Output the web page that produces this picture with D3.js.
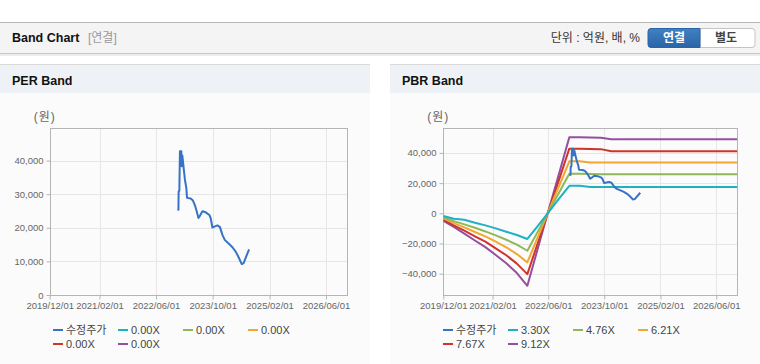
<!DOCTYPE html>
<html><head><meta charset="utf-8">
<script src="https://cdn.jsdelivr.net/npm/d3@7"></script>
<style>
body{margin:0;background:#fff;overflow:hidden;}
svg{display:block;font-family:"Liberation Sans",Arial,"Noto Sans CJK KR",sans-serif;}
</style></head><body>
<svg id="c" width="760" height="364"></svg>
<script>
// ---- data ----
const priceDates = ["2022-12-02","2022-12-11","2022-12-13","2022-12-19","2022-12-24","2023-01-05","2023-01-08","2023-01-14","2023-01-28","2023-02-05","2023-02-17","2023-02-23","2023-03-26","2023-04-15","2023-05-02","2023-05-17","2023-06-01","2023-06-14","2023-07-05","2023-08-02","2023-09-03","2023-09-14","2023-09-29","2023-10-21","2023-11-11","2023-12-03","2023-12-24","2024-01-13","2024-02-19","2024-03-19","2024-04-16","2024-05-06","2024-06-07","2024-06-22","2024-08-09"];
const priceValues = [25400,25400,30800,31000,42800,42800,38300,41500,36800,34300,31800,28900,28700,28100,26700,24900,22900,23600,24900,24600,23800,22900,20100,20400,20700,20200,17900,16400,15200,14200,12900,11600,9200,9400,13600];

const bandDates = ["2019-12-01","2020-03-01","2020-06-01","2020-09-01","2020-12-01","2021-03-01","2021-06-01","2021-09-01","2021-12-01","2022-03-01","2022-06-01","2022-09-01","2022-12-01","2023-03-01","2023-06-01","2023-09-01","2023-12-01","2026-12-01"];
const pbr330 = [-1800,-3600,-4300,-6300,-8000,-10000,-12200,-14400,-17000,-8500,500,9500,18200,18200,17500,17500,17500,17500];
const pbr476 = [-2600,-5200,-7300,-9600,-12000,-14600,-17500,-20800,-24800,-12300,700,13500,26200,26200,26000,25900,25900,25900];
const pbr621 = [-3300,-6500,-9300,-12400,-15300,-18800,-22500,-27000,-32500,-16000,900,17600,34400,34400,33700,33700,33700,33700];
const pbr767 = [-4100,-8000,-11400,-15200,-18800,-23200,-27800,-33300,-40300,-19800,1100,21800,42800,42700,42600,42500,41100,41100];
const pbr912 = [-4900,-9000,-13500,-18000,-22400,-27600,-33100,-39600,-48000,-23500,1300,25800,50400,50300,50200,50100,49100,49100];

const perLegend = ["수정주가","0.00X","0.00X","0.00X","0.00X","0.00X"];
const pbrLegend = ["수정주가","3.30X","4.76X","6.21X","7.67X","9.12X"];
const seriesColors = ["#3473c5","#1fb0c4","#8fb857","#f3a630","#cf342b","#954f9e"];
const xTickLabels = ["2019/12/01","2021/02/01","2022/06/01","2023/10/01","2025/02/01","2026/06/01"];
const perYTicks = [0,10000,20000,30000,40000];
const pbrYTicks = [-40000,-20000,0,20000,40000];
const xDomain = ["2019-12-01","2026-12-01"];

// ---- drawing ----
const svg = d3.select("#c");
const parse = d3.timeParse("%Y-%m-%d");
const parseTick = d3.timeParse("%Y/%m/%d");
const fmtTick = d3.timeFormat("%Y/%m/%d");

// top header
svg.append("rect").attr("x",0).attr("y",22).attr("width",760).attr("height",31).attr("fill","#f4f4f4");
svg.append("line").attr("x1",0).attr("x2",760).attr("y1",22.5).attr("y2",22.5).attr("stroke","#b8b8b8");
svg.append("rect").attr("x",0).attr("y",53).attr("width",760).attr("height",1).attr("fill","#c8c8c8");
svg.append("rect").attr("x",0).attr("y",54).attr("width",760).attr("height",2).attr("fill","#ececec");
svg.append("text").attr("x",12).attr("y",42).attr("font-size",12.5).attr("font-weight","bold").attr("fill","#111").text("Band Chart");
svg.append("text").attr("x",88).attr("y",42).attr("font-size",12).attr("fill","#999").text("[연결]");
svg.append("text").attr("x",640).attr("y",42).attr("text-anchor","end").attr("font-size",12).attr("fill","#333").text("단위 : 억원, 배, %");
const bg = svg.append("defs").append("linearGradient").attr("id","btn").attr("x1",0).attr("y1",0).attr("x2",0).attr("y2",1);
bg.append("stop").attr("offset","0").attr("stop-color","#3f82c4");
bg.append("stop").attr("offset","1").attr("stop-color","#2a64a6");
svg.append("path").attr("d","M700,28.5 H752 a3,3 0 0 1 3,3 V44.5 a3,3 0 0 1 -3,3 H700 Z").attr("fill","#fff").attr("stroke","#c4c4c4");
svg.append("path").attr("d","M700,28.5 H651 a3,3 0 0 0 -3,3 V44.5 a3,3 0 0 0 3,3 H700 Z").attr("fill","url(#btn)").attr("stroke","#2a64a6");
svg.append("text").attr("x",674).attr("y",42).attr("text-anchor","middle").attr("font-size",12).attr("font-weight","bold").attr("fill","#fff").text("연결");
svg.append("text").attr("x",726).attr("y",42).attr("text-anchor","middle").attr("font-size",12).attr("font-weight","bold").attr("fill","#444").text("별도");

function panel(x0, title, plot, yDomain, yTicks, series, legend) {
  const g = svg.append("g");
  g.append("rect").attr("x",x0).attr("y",64).attr("width",370).attr("height",300).attr("fill","#fbfbfb");
  g.append("rect").attr("x",x0).attr("y",64).attr("width",370).attr("height",29).attr("fill","#eef2f7");
  g.append("line").attr("x1",x0).attr("x2",x0+370).attr("y1",64.5).attr("y2",64.5).attr("stroke","#d8d8d8");
  g.append("text").attr("x",x0+12).attr("y",85).attr("font-size",12.5).attr("font-weight","bold").attr("fill","#111").text(title);

  const x = d3.scaleTime().domain(xDomain.map(parse)).range([plot.l, plot.r]);
  const y = d3.scaleLinear().domain(yDomain).range([plot.b, plot.t]);
  const xt = xTickLabels.map(parseTick);

  // grid
  g.append("g").selectAll("line").data(xt).join("line")
    .attr("x1",d=>Math.round(x(d))+0.5).attr("x2",d=>Math.round(x(d))+0.5)
    .attr("y1",plot.t).attr("y2",plot.b).attr("stroke","#e6e6e6");
  g.append("g").selectAll("line").data(yTicks).join("line")
    .attr("y1",d=>Math.round(y(d))+0.5).attr("y2",d=>Math.round(y(d))+0.5)
    .attr("x1",plot.l).attr("x2",plot.r).attr("stroke","#e6e6e6");

  // axes
  const xa = g.append("g").attr("transform",`translate(0,${Math.round(plot.b)+0.5})`)
    .call(d3.axisBottom(x).tickValues(xt).tickFormat(fmtTick).tickSize(4).tickPadding(3));
  const ya = g.append("g").attr("transform",`translate(${Math.round(plot.l)+0.5},0)`)
    .call(d3.axisLeft(y).tickValues(yTicks).tickFormat(d3.format(",")).tickSize(4).tickPadding(3));
  [xa,ya].forEach(a=>{
    a.select(".domain").remove();
    a.selectAll("line").attr("stroke","#b5b5b5");
    a.selectAll("text").attr("fill","#666").attr("font-size",9.5).attr("font-family",null);
  });
  g.append("rect").attr("x",Math.round(plot.l)+0.5).attr("y",Math.round(plot.t)+0.5)
    .attr("width",Math.round(plot.r)-Math.round(plot.l)).attr("height",Math.round(plot.b)-Math.round(plot.t))
    .attr("fill","none").attr("stroke","#b5b5b5");
  g.append("text").attr("x",plot.l-5).attr("y",plot.t-7).attr("font-size",12).attr("fill","#666")
    .attr("text-anchor","middle").attr("letter-spacing",1).text("(원)");

  // lines
  const line = d3.line().x(d=>x(d[0])).y(d=>y(d[1]));
  const clip = "clip"+x0;
  g.append("clipPath").attr("id",clip).append("rect").attr("x",plot.l).attr("y",plot.t).attr("width",plot.r-plot.l).attr("height",plot.b-plot.t);
  const lg = g.append("g").attr("clip-path",`url(#${clip})`);
  series.slice().reverse().forEach(s=>{
    if(!s.values) return;
    const pts = s.dates.map((d,i)=>[parse(d), s.values[i]]);
    lg.append("path").attr("d",line(pts)).attr("fill","none").attr("stroke",s.color).attr("stroke-width",2).attr("stroke-linejoin","round");
  });

  // legend
  const pos = [[52,0],[117,0],[182,0],[247,0],[52,1],[117,1]];
  legend.forEach((t,i)=>{
    const lx = x0+pos[i][0], ly = 330+pos[i][1]*14;
    g.append("rect").attr("x",lx+1).attr("y",ly-1).attr("width",10).attr("height",2).attr("fill",seriesColors[i]);
    g.append("text").attr("x",lx+14).attr("y",ly+4).attr("font-size",11).attr("fill","#444").text(t);
  });
}

panel(0, "PER Band", {l:49.7, r:347.3, t:128.3, b:295}, [0,49600], perYTicks,
  [{dates:priceDates, values:priceValues, color:seriesColors[0]}], perLegend);

panel(390, "PBR Band", {l:443.3, r:737.3, t:128.3, b:295}, [-54100,56300], pbrYTicks,
  [{dates:priceDates, values:priceValues, color:seriesColors[0]},
   {dates:bandDates, values:pbr330, color:seriesColors[1]},
   {dates:bandDates, values:pbr476, color:seriesColors[2]},
   {dates:bandDates, values:pbr621, color:seriesColors[3]},
   {dates:bandDates, values:pbr767, color:seriesColors[4]},
   {dates:bandDates, values:pbr912, color:seriesColors[5]}], pbrLegend);
</script>
</body></html>
